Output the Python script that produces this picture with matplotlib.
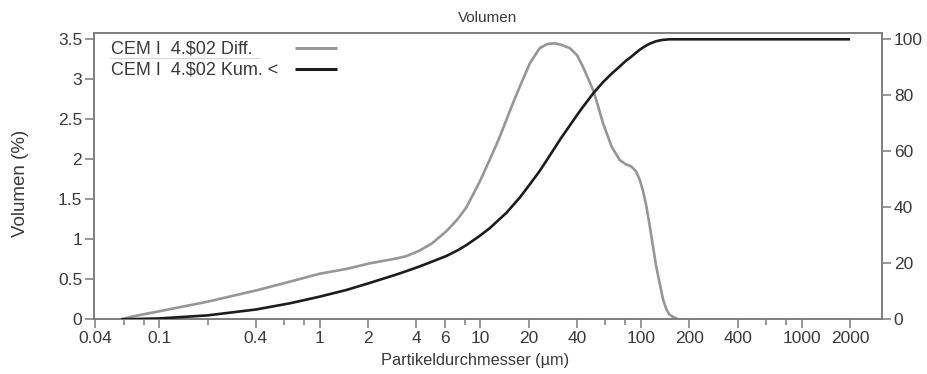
import matplotlib
matplotlib.use("Agg")
import matplotlib.pyplot as plt
from matplotlib.ticker import FixedLocator, FixedFormatter, NullFormatter
from matplotlib.lines import Line2D

plt.rcParams['font.family'] = ['Liberation Sans', 'DejaVu Sans']

# ---- data ----
size_um = [0.058, 0.07, 0.1, 0.2, 0.4, 0.65, 1.0, 1.47, 2.05, 3.0, 3.46, 4.19, 5.0,
           6.13, 7.2, 8.18, 9.9, 11.4, 13.0, 14.5, 16.0, 17.6, 20.3, 23.4, 26.0,
           29.0, 32.0, 36.0, 40.0, 43.4, 50.7, 58.0, 65.5, 73.7, 80.0, 87.0, 93.0,
           98.3, 103.0, 108.0, 113.0, 118.7, 124.0, 130.6, 137.0, 144.0, 150.0,
           158.0, 170.0, 2000.0]
diff_pct = [0.0, 0.04, 0.10, 0.22, 0.36, 0.47, 0.57, 0.63, 0.70, 0.76, 0.79, 0.86, 0.95,
            1.10, 1.25, 1.40, 1.72, 1.99, 2.25, 2.49, 2.71, 2.91, 3.20, 3.39, 3.44,
            3.45, 3.43, 3.39, 3.30, 3.16, 2.85, 2.45, 2.16, 1.99, 1.94, 1.91, 1.85,
            1.74, 1.60, 1.41, 1.18, 0.91, 0.67, 0.45, 0.25, 0.12, 0.06,
            0.03, 0.0, 0.0]
cum_pct = [0.0, 0.1, 0.3, 1.4, 3.5, 5.7, 8.1, 10.5, 13.0, 16.0, 17.2, 18.9, 20.6,
           22.6, 24.6, 26.5, 29.8, 32.5, 35.5, 38.0, 40.8, 43.5, 48.2, 53.0, 57.0,
           61.2, 65.0, 69.2, 73.0, 75.8, 80.9, 84.7, 87.7, 90.3, 92.2, 93.8, 95.2,
           96.3, 97.1, 97.8, 98.4, 98.9, 99.3, 99.6, 99.8, 99.9, 100.0,
           100.0, 100.0, 100.0]

x_major = [0.04, 0.1, 0.4, 1, 2, 4, 6, 10, 20, 40, 100, 200, 400, 1000, 2000]
x_major_labels = ['0.04', '0.1', '0.4', '1', '2', '4', '6', '10', '20', '40',
                  '100', '200', '400', '1000', '2000']
x_minor = [0.06, 0.08, 0.2, 0.6, 0.8, 8, 60, 80, 600, 800]
y_left = [0, 0.5, 1, 1.5, 2, 2.5, 3, 3.5]
y_left_labels = ['0', '0.5', '1', '1.5', '2', '2.5', '3', '3.5']
y_right = [0, 20, 40, 60, 80, 100]
y_right_labels = ['0', '20', '40', '60', '80', '100']

labels = ['CEM I  4.$02 Diff.', 'CEM I  4.$02 Kum. <']

# ---- style ----
c_diff = '#969696'
c_cum = '#1c1c1c'
c_axis = '#7a7a7a'
c_text = '#3a3a3a'
fs_tick = 12.5
fs_leg = 13

fig = plt.figure(figsize=(9.28, 3.74), dpi=100)
ax = fig.add_axes([94/928, 1 - 319.3/374, 788/928, 286/374])
ax2 = ax.twinx()

ax.plot(size_um, diff_pct, color=c_diff, lw=1.9, solid_capstyle='butt',
        solid_joinstyle='round', zorder=3)
ax2.plot(size_um, cum_pct, color=c_cum, lw=1.9, solid_capstyle='butt',
         solid_joinstyle='round', zorder=3)

ax.set_xscale('log')
ax.set_xlim(0.0393, 3162)
ax.set_ylim(0, 3.575)
ax2.set_ylim(0, 3.575 / 3.5 * 100)

ax.xaxis.set_major_locator(FixedLocator(x_major))
ax.xaxis.set_major_formatter(FixedFormatter(x_major_labels))
ax.xaxis.set_minor_locator(FixedLocator(x_minor))
ax.xaxis.set_minor_formatter(NullFormatter())
ax.yaxis.set_major_locator(FixedLocator(y_left))
ax.yaxis.set_major_formatter(FixedFormatter(y_left_labels))
ax2.yaxis.set_major_locator(FixedLocator(y_right))
ax2.yaxis.set_major_formatter(FixedFormatter(y_right_labels))

for a in (ax, ax2):
    for s in a.spines.values():
        s.set_color(c_axis)
        s.set_linewidth(1.1)
    a.tick_params(which='major', direction='out', length=6.5, width=1.1,
                  color=c_axis, labelcolor=c_text, labelsize=fs_tick, pad=2)
    a.tick_params(which='minor', direction='out', length=4, width=1.1, color=c_axis)
ax.yaxis.set_minor_locator(FixedLocator([]))
ax2.yaxis.set_minor_locator(FixedLocator([]))

ax.set_title('Volumen', fontsize=11, color=c_text, pad=8)
ax.set_ylabel('Volumen (%)', fontsize=13.5, color=c_text)
ax.yaxis.set_label_coords(-0.0825, 0.475)
ax.set_xlabel('Partikeldurchmesser (µm)', fontsize=11.8, color=c_text)
ax.xaxis.set_label_coords(0.4835, -0.118)

# ---- legend drawn by hand ----
row_y = [0.945, 0.872]
handle_y = [0.9476, 0.875]
for lab, ty, hy, col in zip(labels, row_y, handle_y, [c_diff, c_cum]):
    ax.text(0.0216, ty, lab, transform=ax.transAxes, fontsize=fs_leg, color=c_text,
            va='center', ha='left')
    ax.add_line(Line2D([0.255, 0.308], [hy, hy], transform=ax.transAxes,
                       color=col, lw=2.2, solid_capstyle='butt'))
ax.add_line(Line2D([0.0216, 0.209], [0.9126, 0.9126], transform=ax.transAxes,
                   color='#d8d8d8', lw=0.8))

fig.savefig('out.png', dpi=100)
